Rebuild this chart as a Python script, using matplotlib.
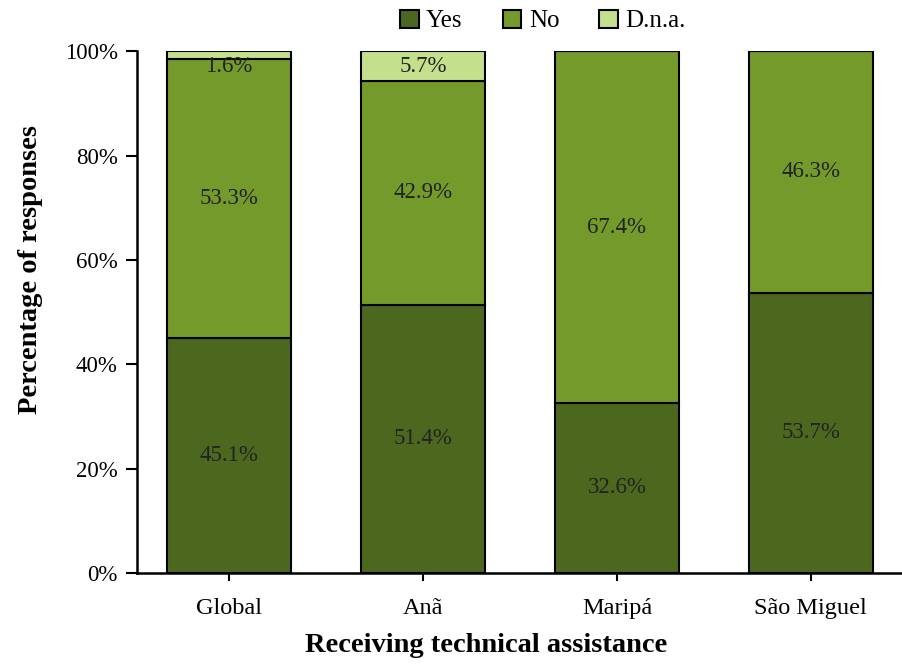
import matplotlib

matplotlib.use("Agg")
import matplotlib.pyplot as plt
import numpy as np
from matplotlib.ticker import FuncFormatter

plt.rcParams["font.family"] = ["Liberation Serif", "DejaVu Serif"]

sites = ["Global", "Anã", "Maripá", "São Miguel"]
yes_pct = [45.1, 51.4, 32.6, 53.7]
no_pct = [53.3, 42.9, 67.4, 46.3]
dna_pct = [1.6, 5.7, 0.0, 0.0]

series = [
    ("Yes", yes_pct, "#4b681e"),
    ("No", no_pct, "#739a2b"),
    ("D.n.a.", dna_pct, "#c4e08d"),
]

fig = plt.figure(figsize=(9.02, 6.64), dpi=100)
ax = fig.add_axes([0.152, 0.137, 0.849, 0.786])

x = np.arange(len(sites))
bottom = np.zeros(len(sites))
for name, values, color in series:
    vals = np.array(values)
    ax.bar(x, vals, 0.64, bottom=bottom, color=color, edgecolor="black",
           linewidth=1.5, label=name)
    for xi, b, v in zip(x, bottom, vals):
        if v <= 0:
            continue
        # keep labels of thin top segments inside the plot area
        y = min(b + v / 2, 97.0)
        ax.text(xi, y, f"{v:.1f}%", ha="center", va="center", fontsize=16.5,
                color="#222222")
    bottom += vals

ax.set_xlim(-0.475, 3.475)
ax.set_ylim(0, 100)
ax.set_xticks(x)
ax.set_xticklabels(sites, fontsize=17.5)
ax.set_yticks(np.arange(0, 101, 20))
ax.yaxis.set_major_formatter(FuncFormatter(lambda v, _: f"{v:.0f}%"))
ax.tick_params(axis="y", labelsize=16.5, length=8, width=1.5, direction="out", pad=6)
ax.tick_params(axis="x", length=6, width=1.5, direction="out", pad=12)

for side in ("top", "right"):
    ax.spines[side].set_visible(False)
for side in ("left", "bottom"):
    ax.spines[side].set_linewidth(1.8)

fig.text(0.034, 1 - 270 / 664, "Percentage of responses", rotation=90,
         ha="center", va="center", fontsize=20.5, fontweight="bold")
fig.text(486 / 902, 1 - 646 / 664, "Receiving technical assistance",
         ha="center", va="center", fontsize=20.5, fontweight="bold")

fig.legend(loc="center", bbox_to_anchor=(543 / 902, 1 - 21 / 664), ncol=3,
           frameon=False, fontsize=18, handlelength=0.75, handleheight=0.75,
           handletextpad=0.3, columnspacing=1.6)

fig.savefig("out.png", dpi=100)
